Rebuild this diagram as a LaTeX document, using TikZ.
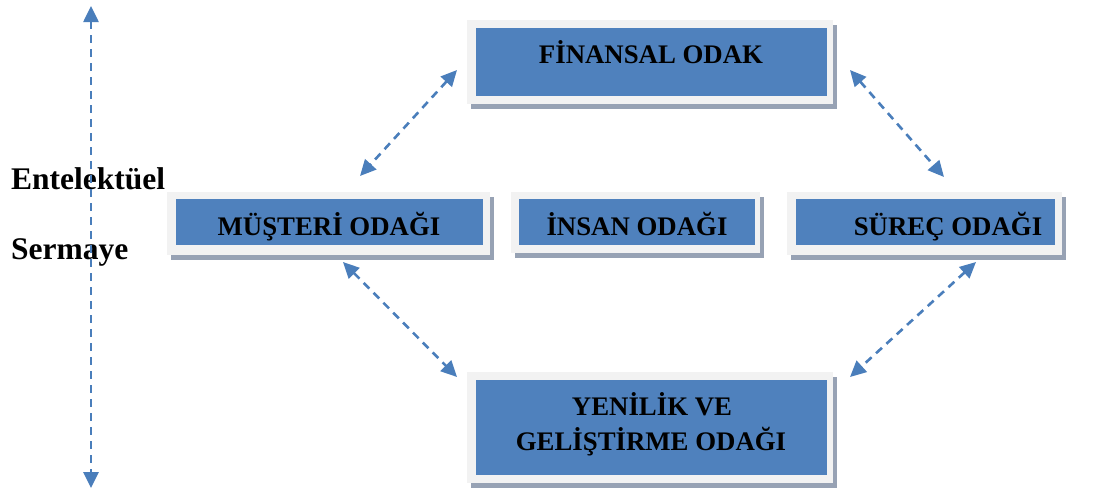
\documentclass[tikz,border=0pt]{standalone}
\usepackage{fontspec}
\setmainfont{Liberation Serif}
\usetikzlibrary{arrows.meta,shadows}

\definecolor{coreblue}{HTML}{4F81BD}
\definecolor{framegray}{HTML}{F2F2F2}
\definecolor{shadowgray}{HTML}{97A2B4}
\definecolor{linkblue}{HTML}{4A7EBB}

\tikzset{
  frame/.style={fill=framegray, draw=none, inner sep=0pt,
    drop shadow={shadow xshift=4pt, shadow yshift=-5pt, fill=shadowgray, opacity=1}},
  core/.style={fill=coreblue, draw=none, inner sep=0pt},
  boxtext/.style={inner sep=0pt, anchor=base, font=\bfseries\fontsize{26.8}{35}\selectfont},
  sidetext/.style={inner sep=0pt, anchor=base west, font=\bfseries\fontsize{31.5}{36}\selectfont},
  link/.style={draw=linkblue, line width=2.6pt, dash pattern=on 8pt off 6pt,
    {Triangle[length=16pt,width=15pt]}-{Triangle[length=16pt,width=15pt]}}
}

\begin{document}
\begin{tikzpicture}[x=1pt,y=-1pt]
  \useasboundingbox (0,0) rectangle (1105,491);

  % Financial box
  \node[frame, minimum width=366pt, minimum height=84pt] (fin) at (650,62) {};
  \node[core, minimum width=351pt, minimum height=68pt] (finc) at (651.5,62) {};
  \node[boxtext] (fint) at (651,63) {FİNANSAL ODAK};

  % Customer box
  \node[frame, minimum width=323pt, minimum height=63pt] (mus) at (328.5,223.5) {};
  \node[core, minimum width=307pt, minimum height=46pt] (musc) at (329.5,222) {};
  \node[boxtext] (must) at (329,235) {MÜŞTERİ ODAĞI};

  % People box
  \node[frame, minimum width=249pt, minimum height=61pt] (ins) at (635.5,222.5) {};
  \node[core, minimum width=236pt, minimum height=46pt] (insc) at (637,222) {};
  \node[boxtext] (inst) at (637,235) {İNSAN ODAĞI};

  % Process box
  \node[frame, minimum width=275pt, minimum height=63pt] (sur) at (924.5,223.5) {};
  \node[core, minimum width=259pt, minimum height=46pt] (surc) at (925.5,222) {};
  \node[boxtext] (surt) at (948,235) {SÜREÇ ODAĞI};

  % Innovation box
  \node[frame, minimum width=366pt, minimum height=111pt] (yen) at (650,427.5) {};
  \node[core, minimum width=351pt, minimum height=95pt] (yenc) at (651.5,427.5) {};
  \node[boxtext] (yent1) at (652,415) {YENİLİK VE};
  \node[boxtext] (yent2) at (651,450) {GELİŞTİRME ODAĞI};

  % Side labels
  \node[sidetext] (ent) at (11,189) {Entelektüel};
  \node[sidetext] (ser) at (11,259) {Sermaye};

  % Arrow ends
  \coordinate (axtop) at (91,6);
  \coordinate (axbot) at (91,488);
  \coordinate (fm1) at (457,70);
  \coordinate (fm2) at (360,176);
  \coordinate (fs1) at (850,70);
  \coordinate (fs2) at (944,177);
  \coordinate (my1) at (343,262);
  \coordinate (my2) at (457,377);
  \coordinate (sy1) at (976,262);
  \coordinate (sy2) at (850,377);

  % Connectors
  \draw[link] (axtop) -- (axbot);
  \draw[link] (fm1) -- (fm2);
  \draw[link] (fs1) -- (fs2);
  \draw[link] (my1) -- (my2);
  \draw[link] (sy1) -- (sy2);
\end{tikzpicture}
\end{document}
